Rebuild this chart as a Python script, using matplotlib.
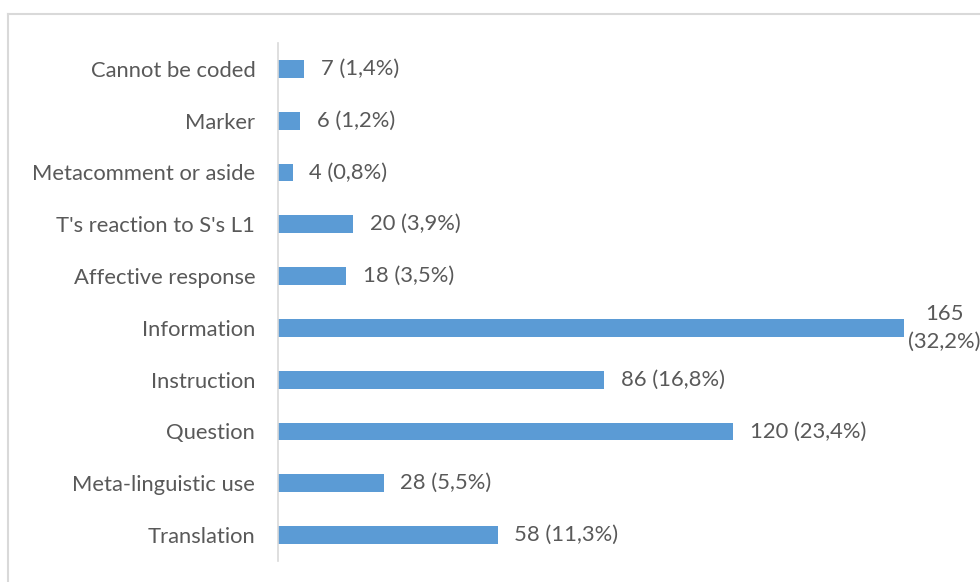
import matplotlib
matplotlib.use('agg')
import matplotlib.pyplot as plt
from matplotlib.lines import Line2D

# categories listed bottom to top, as drawn
categories = ['Translation', 'Meta-linguistic use', 'Question', 'Instruction',
              'Information', 'Affective response', "T's reaction to S's L1",
              'Metacomment or aside', 'Marker', 'Cannot be coded']
counts = [58, 28, 120, 86, 165, 18, 20, 4, 6, 7]
percents = ['11,3', '5,5', '23,4', '16,8', '32,2', '3,5', '3,9', '0,8', '1,2', '1,4']

bar_color = '#5B9BD5'
text_color = '#595959'
fsize = 15.8

plt.rcParams['font.family'] = ['Lato', 'DejaVu Sans']

fig = plt.figure(figsize=(9.8, 5.82), dpi=100)
ax = fig.add_axes([277.5 / 980, 1 - 561 / 582, (904 - 277.5) / 980, (561 - 43) / 582])

ypos = list(range(len(categories)))
ax.barh(ypos, counts, height=0.34, color=bar_color)

for y, c, p in zip(ypos, counts, percents):
    if c == max(counts):
        # widest bar: label wraps onto two lines past the bar end
        ax.annotate(f'{c}\n({p}%)', (c, y), xytext=(3, 0), textcoords='offset points',
                    ha='left', va='center', multialignment='center',
                    fontsize=fsize, color=text_color, linespacing=1.45,
                    annotation_clip=False)
    else:
        ax.annotate(f'{c} ({p}%)', (c, y), xytext=(12, 0), textcoords='offset points',
                    ha='left', va='center', fontsize=fsize, color=text_color)

ax.set_xlim(0, 165)
ax.set_ylim(-0.5, len(categories) - 0.5)
ax.set_yticks(ypos)
ax.set_yticklabels(categories, fontsize=fsize, color=text_color)
ax.tick_params(axis='y', length=0, pad=16)
ax.set_xticks([])

for s in ['top', 'right', 'bottom']:
    ax.spines[s].set_visible(False)
ax.spines['left'].set_color('#d9d9d9')
ax.spines['left'].set_linewidth(1.2)

# outer chart border (cut off at the right and bottom)
fig.add_artist(Line2D([8 / 980, 1.0], [1 - 14 / 582, 1 - 14 / 582],
                      color='#d9d9d9', lw=1.5, transform=fig.transFigure))
fig.add_artist(Line2D([8 / 980, 8 / 980], [1 - 14 / 582, 0.0],
                      color='#d9d9d9', lw=1.5, transform=fig.transFigure))

plt.savefig('out.png', dpi=100)
